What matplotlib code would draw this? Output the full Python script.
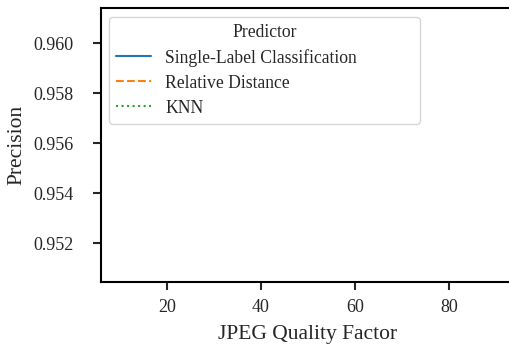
import numpy as np
import matplotlib.pyplot as plt
import seaborn as sns

sns.set_style("ticks")
plt.rcParams["font.family"] = ["Liberation Serif", "DejaVu Serif"]
plt.rcParams["mathtext.fontset"] = "stix"

# JPEG quality factors and precision per predictor (no values inside the shown window)
quality = [10, 20, 30, 40, 50, 60, 70, 80, 90]
single_label = [np.nan] * len(quality)
relative_distance = [np.nan] * len(quality)
knn = [np.nan] * len(quality)

series = [
    ("Single-Label Classification", single_label, "-"),
    ("Relative Distance", relative_distance, "--"),
    ("KNN", knn, ":"),
]
colors = sns.color_palette("tab10")

fig = plt.figure(figsize=(5.09, 3.47), dpi=100)
ax = fig.add_axes([101 / 509, 1 - 282 / 347, 414 / 509, 274 / 347])

for (name, vals, ls), c in zip(series, colors):
    ax.plot(quality, vals, ls, color=c, label=name, lw=1.5)

ax.set_xlim(6, 94)
ax.set_ylim(0.95044, 0.9614)
ax.set_xticks([20, 40, 60, 80])
ax.set_yticks([0.952, 0.954, 0.956, 0.958, 0.960])
ax.yaxis.set_major_formatter(plt.FormatStrFormatter("%.3f"))
ax.tick_params(labelsize=13, length=6, width=1.5)
ax.tick_params(axis="x", pad=6)
ax.tick_params(axis="y", pad=14)
for s in ax.spines.values():
    s.set_linewidth(1.5)
    s.set_color("black")

ax.set_xlabel("JPEG Quality Factor", fontsize=15.5, labelpad=6.5)
ax.set_ylabel("Precision", fontsize=15.5, labelpad=5)

# legend frame spans a fixed width in axes coordinates
leg = ax.legend(title="Predictor", loc="upper left", fontsize=12.7, title_fontsize=12.7,
                frameon=True, labelspacing=0.45, mode="expand", borderaxespad=0,
                bbox_to_anchor=(0.0193, 0.0, 0.751, 0.968))

fig.savefig("out.png", dpi=100)
